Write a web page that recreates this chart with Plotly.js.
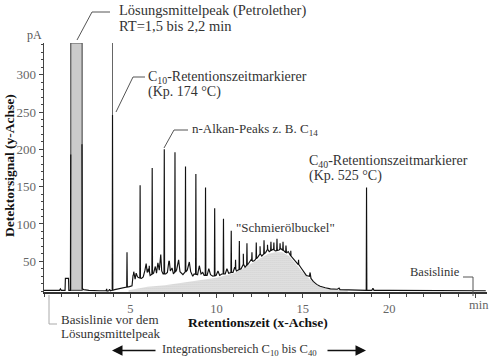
<!DOCTYPE html>
<html><head><meta charset="utf-8">
<script src="https://cdn.plot.ly/plotly-3.0.1.min.js"></script>
<style>html,body{margin:0;padding:0;background:#fff}#chart{width:490px;height:362px}</style>
</head><body><div id="chart"></div>
<script>
// ---- data (retention time in min, detector signal in pA) ----
// lower envelope of the detector trace (null = hidden inside the solvent band)
const baseT = [0.0,0.9,0.95,1.0,1.22,1.24,1.42,1.44,1.53,1.55,1.56,2.2,2.22,2.3,2.6,3.2,3.6,3.63,3.66,3.75,3.8,3.85,4.1,4.3,4.5,4.7,4.95,5.1,5.16,5.22,5.28,5.34,5.42,5.5,5.65,5.75,5.85,5.92,5.98,6.05,6.15,6.35,6.45,6.52,6.6,6.68,6.75,6.82,6.9,7.05,7.15,7.25,7.32,7.42,7.5,7.68,7.8,7.88,8.05,8.12,8.3,8.42,8.5,8.62,8.7,8.9,9.0,9.1,9.2,9.28,9.45,9.55,9.65,9.78,9.97,10.08,10.18,10.3,10.5,10.6,10.7,10.78,10.95,11.05,11.15,11.25,11.42,11.55,11.65,11.85,12.0,12.1,12.2,12.4,12.52,12.62,12.85,12.95,13.05,13.28,13.4,13.62,13.72,13.95,14.05,14.15,14.3,14.5,14.7,14.9,15.05,15.2,15.38,15.42,15.47,15.6,15.8,16.0,16.3,16.6,17.0,17.1,17.15,17.6,18.0,18.6,18.78,19.0,19.06,19.12,20.0,22.0,25.6];
const baseV = [11,11,13,11,11,27,27,11,11,193,null,207,13,12,11,10.5,10.5,13,10,10.5,12.5,10.5,12,13,14,15,16,17,31,33,26,34,29,28,27,29,38,47,35,40,31,34,43,34,48,38,59,37,33,33,35,50,37,41,33,38,52,36,32,34,38,49,36,30,33,32,44,33,35,31,31,40,32,30,31,37,31,33,33,40,34,35,35,42,37,38,40,46,42,47,52,50,51,56,60,57,62,66,63,66,64,65,67,63,61,63,57,52,47,41,36,31,30,35,27,23,19,16.5,14.5,13,12.5,14,12,11.5,11,11,11,11,14,11,11,10.5,10.5];
// n-alkane peaks and retention-time markers (C10 ... C28, C40)
const peakT = [3.97,4.81,5.57,6.27,6.97,7.59,8.20,8.80,9.36,9.89,10.40,10.85,11.32,11.76,12.30,12.75,13.15,13.50,13.85,18.69];
const peakV = [246,62,152,175,200,196,177,167,149,121,107,91,77,74,75,78,76,80,76,149];
// smaller peaks riding on the hump
const minorT = [5.2,6.1,6.75,7.25,11.1,11.55,12.05,12.52,12.95,13.32,13.68,14.02,14.3,14.75];
const minorV = [36,44,59,50,52,60,62,70,72,75,74,71,64,52];
// "Schmierölbuckel" (unresolved hump, stippled area)
const humpT = [4.9,5.3,6.0,7.0,8.0,9.0,10.0,10.5,11.0,11.5,12.0,12.5,13.0,13.4,13.8,14.2,14.6,15.0,15.4,15.8,16.2,16.6,17.0,17.6];
const humpV = [11,13,16,18,21,24,28,31,34,40,47,54,60,62,62,57,46,35,26,18,14,12.5,11.5,11];
// solvent peak (off scale) and off-scale part of the C10 marker
const solventRange = [1.55, 2.21];
const c10Offscale = [246, 343];
// axis ticks
const xTickVals = [5,10,15,20];
const xTickText = ['5','10','15','20'];
const xUnit = 'min';
const yUnit = 'pA';
const yRange = [8.8, 342.6];
const xRange = [0, 25.67];

// ---- build the trace ----
function baseAt(t){
  for(let i=0;i<baseT.length-1;i++){
    if(t>=baseT[i] && t<=baseT[i+1] && baseV[i]!=null && baseV[i+1]!=null){
      const f=(t-baseT[i])/(baseT[i+1]-baseT[i]);
      return baseV[i]+f*(baseV[i+1]-baseV[i]);
    }
  }
  return 11;
}
let pts = baseT.map((t,i)=>[t,baseV[i]]);
function addPeak(t,h,w){ const b=baseAt(t); pts.push([t-w,b],[t,h],[t+w,b]); }
peakT.forEach((t,i)=>addPeak(t,peakV[i],0.018));
minorT.forEach((t,i)=>addPeak(t,minorV[i],0.015));
pts.sort((a,b)=>a[0]-b[0]);

const FONT='Liberation Serif';
const traces = [
  {x:humpT,y:humpV,type:'scatter',mode:'lines',fill:'tozeroy',line:{width:0,color:'#bbb'},
   fillcolor:'#e6e6e6',fillpattern:{shape:'.',fgcolor:'#a8a8a8',bgcolor:'#ececec',size:2,solidity:0.3},hoverinfo:'skip'},
  {x:pts.map(p=>p[0]),y:pts.map(p=>p[1]),type:'scatter',mode:'lines',connectgaps:false,
   line:{color:'#111',width:1.15},hoverinfo:'skip'},
  {x:[peakT[0],peakT[0]],y:c10Offscale,type:'scatter',mode:'lines',line:{color:'#666',width:1},hoverinfo:'skip'}
];

const W=490,H=362,L=44,T=43,R=3,B=70;
const pw=W-L-R, ph=H-T-B;
const px=x=>(x-L)/pw, py=y=>(H-B-y)/ph;

function txt(text,x,y,size,opt={}){
  return Object.assign({text:text,xref:'paper',yref:'paper',x:px(x),y:py(y),xanchor:'left',yanchor:'middle',
    showarrow:false,font:{family:FONT,size:size,color:'#333'}},opt);
}
const annotations = [
  txt('Lösungsmittelpeak (Petrolether)',117,11,14.5),
  txt('RT=1,5 bis 2,2 min',117,25.5,14.5),
  txt('C<sub>10</sub>-Retentionszeitmarkierer',146,77,14),
  txt('(Kp. 174 °C)',146,92,14),
  txt('n-Alkan-Peaks z. B. C<sub>14</sub>',190,129,13),
  txt('C<sub>40</sub>-Retentionszeitmarkierer',307,161,14),
  txt('(Kp. 525 °C)',307,176,14),
  txt('"Schmierölbuckel"',234,227,13),
  txt('Basislinie',462,272,12.5,{xanchor:'right'}),
  txt('Basislinie vor dem',59,319,13),
  txt('Lösungsmittelpeak',59,334,13),
  txt('Integrationsbereich C<sub>10</sub> bis C<sub>40</sub>',160,350,12.5),
  txt(yUnit,34,35,12,{xanchor:'center',font:{family:FONT,size:12,color:'#555'}}),
  txt(xUnit,479,305,12.5,{xanchor:'center',font:{family:FONT,size:12.5,color:'#666'}}),
  txt('<b>Retentionszeit (x-Achse)</b>',258,322,13.5,{xanchor:'center',font:{family:FONT,size:13.5,color:'#111'}}),
  txt('<b>Detektorsignal (y-Achse)</b>',9,166,13.5,{xanchor:'center',textangle:-90,font:{family:FONT,size:13.5,color:'#111'}}),
  {text:'',xref:'paper',yref:'paper',x:px(112),y:py(350.5),ax:45,ay:0,showarrow:true,arrowhead:2,arrowsize:1.4,arrowwidth:1.5,arrowcolor:'#111'},
  {text:'',xref:'paper',yref:'paper',x:px(366),y:py(350.5),ax:-40,ay:0,showarrow:true,arrowhead:2,arrowsize:1.4,arrowwidth:1.5,arrowcolor:'#111'}
];

function poly(points,color,width){
  const out=[];
  for(let i=0;i<points.length-1;i++){
    out.push({type:'line',xref:'paper',yref:'paper',x0:px(points[i][0]),y0:py(points[i][1]),
      x1:px(points[i+1][0]),y1:py(points[i+1][1]),line:{color:color,width:width}});
  }
  return out;
}
const shapes = [
  {type:'rect',xref:'x',yref:'y',x0:solventRange[0],x1:solventRange[1],y0:11,y1:yRange[1],
   fillcolor:'#cbcbcb',line:{color:'#555',width:1.2},layer:'below'},
  ...poly([[110,12],[92,12],[77,40]],'#555',1),
  ...poly([[145,77],[133,77],[116,112]],'#555',1),
  ...poly([[188,130],[174,130],[164,148]],'#555',1),
  ...poly([[463,277],[473,277],[473,296]],'#555',1),
  ...poly([[49,295],[49,324],[57,324]],'#aaa',1)
];

const layout = {
  width:W,height:H,margin:{l:L,r:R,t:T,b:B,pad:0},
  paper_bgcolor:'#fff',plot_bgcolor:'#fff',showlegend:false,
  xaxis:{range:xRange,showgrid:false,zeroline:false,showline:true,linecolor:'#333',linewidth:2,
    ticks:'outside',ticklen:4,tickwidth:1,tickcolor:'#444',tickmode:'array',tickvals:xTickVals.concat([25]),ticktext:xTickText.concat(['']),
    tickfont:{family:FONT,size:12.5,color:'#666'},
    minor:{ticks:'outside',tickmode:'linear',tick0:0,dtick:1,ticklen:2.5,tickcolor:'#444',showgrid:false}},
  yaxis:{range:yRange,showgrid:false,zeroline:false,showline:true,linecolor:'#444',linewidth:1.5,
    ticks:'outside',ticklen:4,tickwidth:1,tickcolor:'#444',tickmode:'linear',tick0:0,dtick:50,
    tickfont:{family:FONT,size:13,color:'#666'},
    minor:{ticks:'outside',tickmode:'linear',tick0:0,dtick:10,ticklen:2,tickcolor:'#444',showgrid:false}},
  annotations:annotations,shapes:shapes
};
Plotly.newPlot('chart',traces,layout,{staticPlot:true,displayModeBar:false});
</script></body></html>
